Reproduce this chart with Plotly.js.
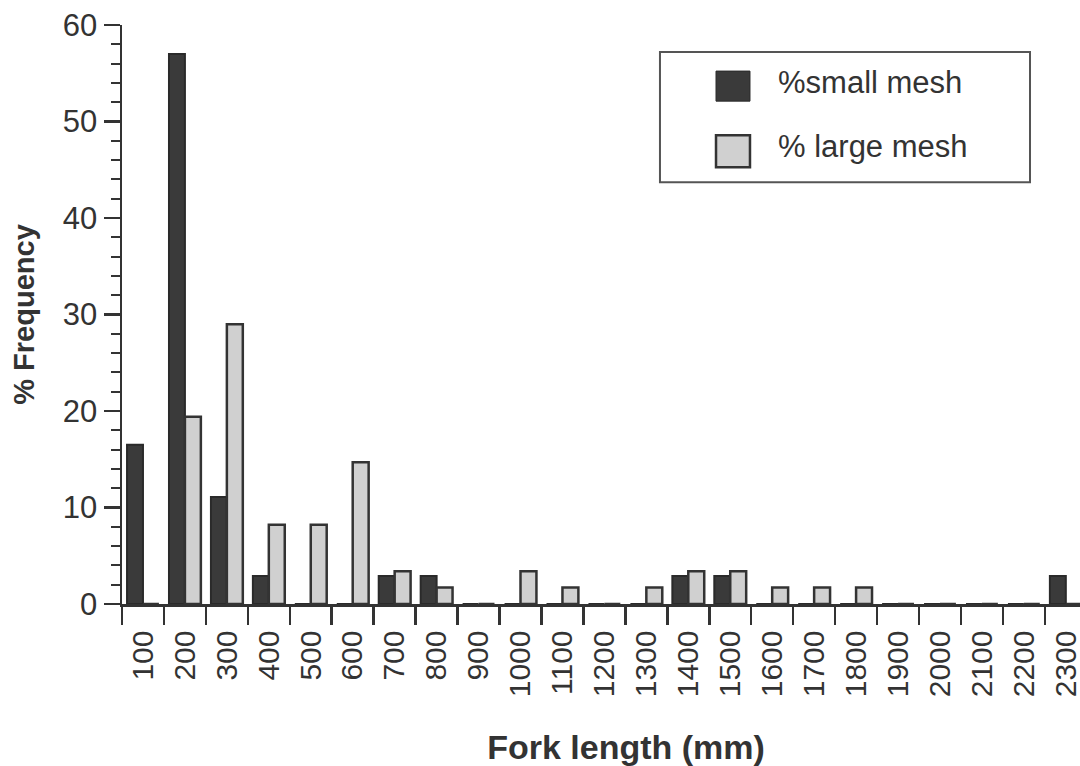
<!DOCTYPE html>
<html>
<head>
<meta charset="utf-8">
<script src="https://cdn.plot.ly/plotly-3.0.1.min.js"></script>
<style>
html,body{margin:0;padding:0;background:#fff;overflow:hidden;width:1080px;height:766px;}
#chart{width:1130px;height:766px;}
</style>
</head>
<body>
<div id="chart"></div>
<script>
// ---- data ----
var forkLength = ['100','200','300','400','500','600','700','800','900','1000','1100','1200',
                  '1300','1400','1500','1600','1700','1800','1900','2000','2100','2200','2300'];
var smallMesh  = [16.5, 57.0, 11.1, 2.9, 0, 0, 2.9, 2.9, 0, 0, 0, 0,
                  0, 2.9, 2.9, 0, 0, 0, 0, 0, 0, 0, 2.9];
var largeMesh  = [0, 19.4, 29.0, 8.2, 8.2, 14.7, 3.4, 1.7, 0, 3.4, 1.7, 0,
                  1.7, 3.4, 3.4, 1.7, 1.7, 1.7, 0, 0, 0, 0, 0];
var seriesNames = ['%small mesh', '% large mesh'];
var yTickVals = [0, 10, 20, 30, 40, 50, 60];
var xTitle = 'Fork length (mm)';
var yTitle = '% Frequency';

var ink = '#333333';
var darkFill = '#3a3a3a';
var lightFill = '#d0d0d0';
var font = 'Liberation Sans, Arial, Helvetica, sans-serif';

var traces = [
  {type:'bar', name:seriesNames[0], x:forkLength, y:smallMesh,
   marker:{color:darkFill, line:{color:'#2a2a2a', width:2}}, showlegend:false, hoverinfo:'x+y'},
  {type:'bar', name:seriesNames[1], x:forkLength, y:largeMesh,
   marker:{color:lightFill, line:{color:ink, width:2.5}}, showlegend:false, hoverinfo:'x+y'}
];

// custom legend (box, swatches and labels) in paper coordinates
var legendShapes = [
  {type:'rect', xref:'paper', yref:'paper', x0:0.5337, x1:0.9008, y0:0.7284, y1:0.9533,
   line:{color:'#555555', width:2}, fillcolor:'rgba(0,0,0,0)'},
  {type:'rect', xref:'paper', yref:'paper', x0:0.5893, x1:0.6230, y0:0.8685, y1:0.9204,
   line:{color:'#2a2a2a', width:1}, fillcolor:darkFill},
  {type:'rect', xref:'paper', yref:'paper', x0:0.5893, x1:0.6230, y0:0.7543, y1:0.8097,
   line:{color:ink, width:2.5}, fillcolor:lightFill}
];
var legendLabels = [
  {xref:'paper', yref:'paper', x:0.6488, y:0.9015, xanchor:'left', yanchor:'middle',
   text:seriesNames[0], showarrow:false, font:{family:font, size:31, color:ink}},
  {xref:'paper', yref:'paper', x:0.6488, y:0.7902, xanchor:'left', yanchor:'middle',
   text:seriesNames[1], showarrow:false, font:{family:font, size:31, color:ink}}
];

var layout = {
  width:1130, height:766,
  margin:{l:122, r:0, t:25, b:162},
  paper_bgcolor:'#ffffff', plot_bgcolor:'#ffffff',
  font:{family:font, color:ink},
  barmode:'group', bargap:0.24, bargroupgap:0,
  xaxis:{
    type:'category', range:[-0.5, 23.53], fixedrange:true,
    showline:true, linecolor:ink, linewidth:2.5,
    ticks:'outside', tickson:'boundaries', ticklen:18, tickwidth:2.5, tickcolor:ink,
    tickangle:-90, tickfont:{family:font, size:30, color:ink}, ticklabelstandoff:12,
    showgrid:false, zeroline:false,
    title:{text:xTitle, font:{family:font, size:34, color:ink, weight:'bold'}, standoff:40}
  },
  yaxis:{
    range:[0, 60], fixedrange:true,
    tickmode:'array', tickvals:yTickVals,
    showline:true, linecolor:ink, linewidth:2.5,
    ticks:'outside', ticklen:16, tickwidth:2.5, tickcolor:ink,
    minor:{dtick:2, ticks:'outside', ticklen:9, tickwidth:2, tickcolor:ink, showgrid:false},
    tickfont:{family:font, size:31, color:ink},
    showgrid:false, zeroline:false,
    title:{text:yTitle, font:{family:font, size:29, color:ink, weight:'bold'}, standoff:20}
  },
  shapes:legendShapes,
  annotations:legendLabels,
  showlegend:false
};

Plotly.newPlot('chart', traces, layout, {displayModeBar:false, staticPlot:true});
</script>
</body>
</html>
